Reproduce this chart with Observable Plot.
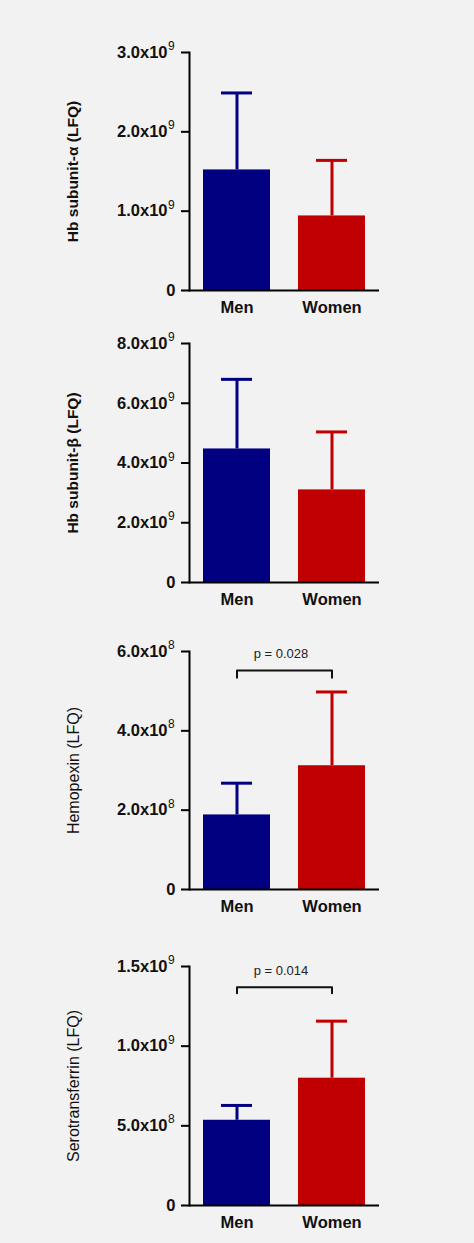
<!DOCTYPE html>
<html>
<head>
<meta charset="utf-8">
<script src="https://cdn.jsdelivr.net/npm/d3@7"></script>
<script src="https://cdn.jsdelivr.net/npm/@observablehq/plot@0.6"></script>
<style>
  html, body { margin: 0; padding: 0; background: #f2f2f2; }
  #chart { width: 474px; }
  #chart svg { display: block; }
</style>
</head>
<body>
<div id="chart"></div>
<script>
// ---- data ----
const groups = ["Men", "Women"];
const colors = ["#000080", "#c00000"];

const titles = ["Hb subunit-\u03b1 (LFQ)", "Hb subunit-\u03b2 (LFQ)", "Hemopexin (LFQ)", "Serotransferrin (LFQ)"];
const titleBold = [true, true, false, false];

const meanHbA = [1.52e9, 0.94e9];
const sdHbA = [0.97e9, 0.70e9];
const ticksHbA = [0, 1e9, 2e9, 3e9];
const tickLabelsHbA = ["0", "1.0x10^9", "2.0x10^9", "3.0x10^9"];

const meanHbB = [4.47e9, 3.10e9];
const sdHbB = [2.33e9, 1.94e9];
const ticksHbB = [0, 2e9, 4e9, 6e9, 8e9];
const tickLabelsHbB = ["0", "2.0x10^9", "4.0x10^9", "6.0x10^9", "8.0x10^9"];

const meanHpx = [1.88e8, 3.12e8];
const sdHpx = [0.80e8, 1.86e8];
const ticksHpx = [0, 2e8, 4e8, 6e8];
const tickLabelsHpx = ["0", "2.0x10^8", "4.0x10^8", "6.0x10^8"];
const bracketHpx = [5.34e8, 5.52e8]; // [end, top]
const pTextHpx = "p = 0.028";
const pYHpx = 5.94e8;

const meanTf = [5.35e8, 7.99e8];
const sdTf = [0.93e8, 3.58e8];
const ticksTf = [0, 5e8, 1e9, 1.5e9];
const tickLabelsTf = ["0", "5.0x10^8", "1.0x10^9", "1.5x10^9"];
const bracketTf = [1.332e9, 1.370e9];
const pTextTf = "p = 0.014";
const pYTf = 1.475e9;

// ---- layout per panel ----
const panels = [
  {title: titles[0], bold: titleBold[0], mean: meanHbA, sd: sdHbA, ticks: ticksHbA, labels: tickLabelsHbA, height: 320, top: 52, bottom: 30},
  {title: titles[1], bold: titleBold[1], mean: meanHbB, sd: sdHbB, ticks: ticksHbB, labels: tickLabelsHbB, height: 300, top: 23, bottom: 38},
  {title: titles[2], bold: titleBold[2], mean: meanHpx, sd: sdHpx, ticks: ticksHpx, labels: tickLabelsHpx, height: 320, top: 31, bottom: 51, bracket: bracketHpx, p: pTextHpx, pY: pYHpx},
  {title: titles[3], bold: titleBold[3], mean: meanTf, sd: sdTf, ticks: ticksTf, labels: tickLabelsTf, height: 303, top: 26, bottom: 38, bracket: bracketTf, p: pTextTf, pY: pYTf}
];

const container = document.getElementById("chart");
const FONT = "Liberation Sans, Arial, sans-serif";
const NS = "http://www.w3.org/2000/svg";
const LABEL_RIGHT = 175;   // right edge of tick labels (px from svg left)

for (const P of panels) {
  const data = groups.map((g, i) => ({group: g, mean: P.mean[i], upper: P.mean[i] + P.sd[i]}));
  const ymax = P.ticks[P.ticks.length - 1];
  const fmt = new Map(P.ticks.map((t, i) => [t, P.labels[i]]));
  const marks = [
    Plot.barY(data, {x: "group", y: "mean", fill: "group"}),
    Plot.ruleX(data, {x: "group", y1: "mean", y2: "upper", stroke: "group", strokeWidth: 3}),
    Plot.tickY(data, {x: "group", y: "upper", stroke: "group", strokeWidth: 3, insetLeft: 18, insetRight: 18}),
    Plot.ruleY([0], {stroke: "black", strokeWidth: 2}),
    Plot.frame({anchor: "left", stroke: "black", strokeWidth: 2}),
    Plot.axisY({ticks: P.ticks, tickFormat: (d) => fmt.get(d), tickSize: 8, tickPadding: 6, strokeWidth: 2,
      fontSize: 16.5, fontWeight: "bold", fill: "#111", label: null}),
    Plot.axisX({tickSize: 0, tickPadding: 11, fontSize: 16.5, fontWeight: "bold", fill: "#111", label: null}),
    Plot.text([P.title], {frameAnchor: "left", rotate: -90, dx: -116, textAnchor: "middle", lineAnchor: "middle",
      fontSize: P.bold ? 15.5 : 16, fontWeight: P.bold ? "bold" : "normal", fill: "#111"})
  ];
  if (P.bracket) {
    const br = [
      {group: groups[0], v: P.bracket[0]},
      {group: groups[0], v: P.bracket[1]},
      {group: groups[1], v: P.bracket[1]},
      {group: groups[1], v: P.bracket[0]}
    ];
    marks.push(Plot.line(br, {x: "group", y: "v", stroke: "#111", strokeWidth: 2}));
    marks.push(Plot.text([P.p], {x: () => groups[0], y: () => P.pY, dx: 44, textAnchor: "middle", lineAnchor: "middle",
      fontSize: 13, fill: "#222"}));
  }
  const chart = Plot.plot({
    width: 474,
    height: P.height,
    marginLeft: 189,
    marginRight: 95,
    marginTop: P.top,
    marginBottom: P.bottom,
    style: {fontFamily: FONT, background: "transparent", color: "black", overflow: "visible"},
    x: {domain: groups, paddingInner: 0.3, paddingOuter: 0.145},
    y: {domain: [0, ymax]},
    color: {domain: groups, range: colors},
    marks
  });
  // "a^b" tick labels: base text plus a separate superscript text beside it
  const pairs = [];
  chart.querySelectorAll('g[aria-label="y-axis tick label"] text').forEach((t) => {
    const s = t.textContent;
    const k = s.indexOf("^");
    if (k < 0) return;
    t.textContent = s.slice(0, k);
    const sup = document.createElementNS(NS, "text");
    sup.textContent = s.slice(k + 1);
    const tr = t.getAttribute("transform");
    if (tr) sup.setAttribute("transform", tr);
    sup.setAttribute("text-anchor", "start");
    sup.setAttribute("dy", "-2.5");
    sup.setAttribute("font-size", "12");
    sup.setAttribute("font-weight", "normal");
    t.parentNode.insertBefore(sup, t.nextSibling);
    pairs.push([t, sup]);
  });
  container.appendChild(chart);
  // nudge base and superscript so the pair ends at LABEL_RIGHT
  const left0 = chart.getBoundingClientRect().left;
  for (const [t, sup] of pairs) {
    const sw = sup.getBoundingClientRect().width;
    const supLeft = LABEL_RIGHT - sw;
    const baseRight = supLeft - 0.5;
    const rb = t.getBoundingClientRect().right - left0;
    t.setAttribute("dx", (baseRight - rb).toFixed(2));
    const ls = sup.getBoundingClientRect().left - left0;
    sup.setAttribute("dx", (supLeft - ls).toFixed(2));
  }
}
</script>
</body>
</html>
